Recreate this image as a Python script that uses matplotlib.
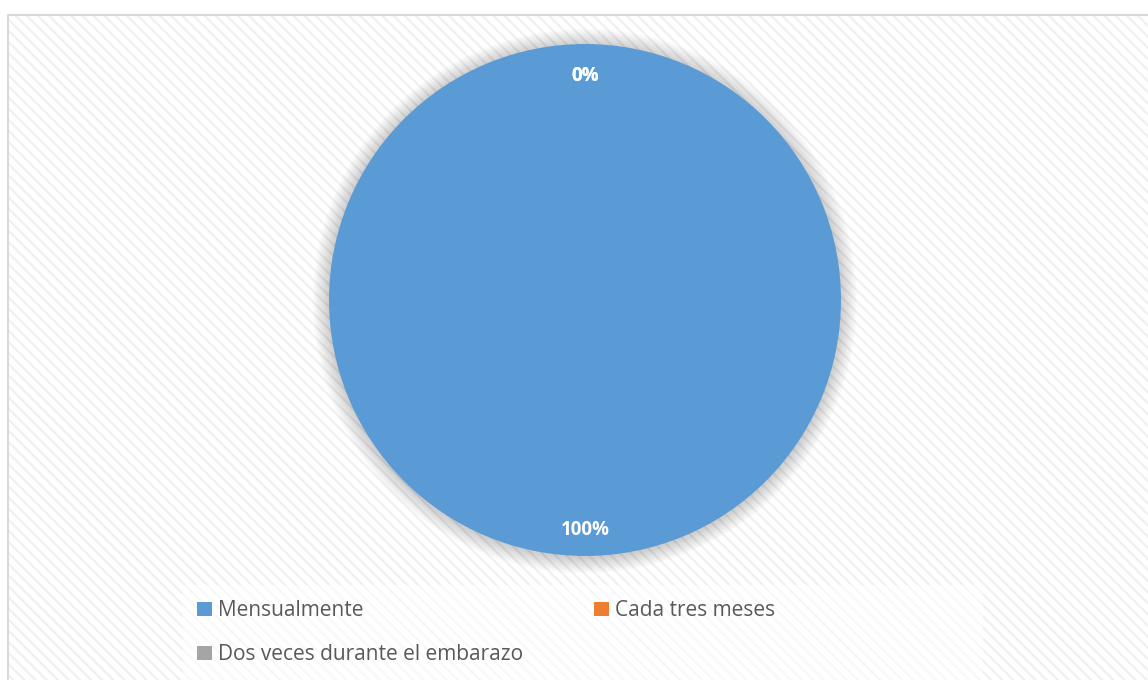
import matplotlib
matplotlib.use("Agg")
import matplotlib.pyplot as plt
import matplotlib.transforms as mtransforms
from matplotlib.patches import Rectangle, Circle

categories = ["Mensualmente", "Cada tres meses", "Dos veces durante el embarazo"]
values = [100, 0, 0]
colors = ["#5b9bd5", "#ed7d31", "#a5a5a5"]

W, H = 1148, 680
plt.rcParams['font.family'] = ['Open Sans', 'DejaVu Sans']
plt.rcParams['hatch.linewidth'] = 1.6
fig = plt.figure(figsize=(W / 100, H / 100), dpi=100)
fig.patch.set_facecolor("white")

def fx(x): return x / W
def fy(y): return 1 - y / H

# chart frame with diagonal hatch
fig.patches.append(Rectangle((fx(8), 0), 1 - fx(8), fy(15), transform=fig.transFigure,
                             facecolor="white", edgecolor="#f0f0f0", hatch="\\\\\\", lw=0, zorder=-3))
fig.patches.append(Rectangle((fx(8), -0.01), 1 - fx(8) + 0.01, fy(15) + 0.01, transform=fig.transFigure,
                             facecolor="none", edgecolor="#d9d9d9", lw=1.5, zorder=-2))
# legend area
fig.patches.append(Rectangle((fx(183), 0), fx(983) - fx(183), fy(585), transform=fig.transFigure,
                             facecolor="white", edgecolor="#f8f8f8", hatch="\\\\\\", lw=0, zorder=-1))

cx, cy, r = 585, 300, 256
ax = fig.add_axes([fx(cx - r), fy(cy + r), 2 * r / W, 2 * r / H])
ax.set_facecolor("none")
ax.set_zorder(2)
for i in range(16):
    ax.add_patch(Circle((0.0, -0.004), 1.0 + 0.004 * (i + 1), facecolor="black",
                        alpha=0.01, edgecolor="none", zorder=0, clip_on=False))
wedges, texts, autotexts = ax.pie(values, colors=colors, startangle=90, counterclock=False,
                                  autopct=lambda p: f"{p:.0f}%", pctdistance=0.885,
                                  wedgeprops=dict(linewidth=0, zorder=2),
                                  textprops=dict(color="white", fontsize=13.5, fontweight="bold"))
for t in autotexts:
    t.set_zorder(5)
    t.set_transform(mtransforms.offset_copy(ax.transData, fig=fig, x=0, y=-3, units="dots"))
ax.set_xlim(-1, 1)
ax.set_ylim(-1, 1)
ax.set_aspect("equal")
ax.axis("off")

order = [0, 2, 1]
leg = fig.legend([wedges[i] for i in order], [categories[i] for i in order], ncol=2,
                 loc="upper left", bbox_to_anchor=(fx(187), fy(590)), frameon=False,
                 fontsize=15, labelcolor="#595959", handlelength=0.7, handleheight=0.7,
                 handletextpad=0.3, columnspacing=3.4, labelspacing=1.1, borderpad=0)
fig.savefig("out.png", dpi=100)
